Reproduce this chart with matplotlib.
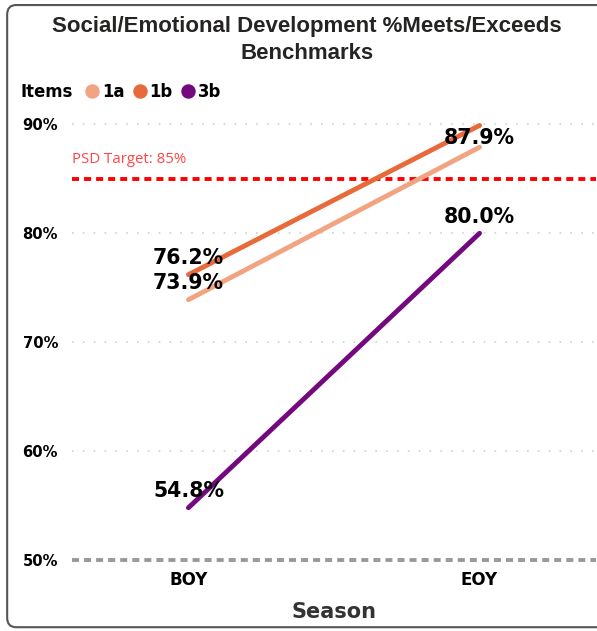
import matplotlib.pyplot as plt
from matplotlib.patches import FancyBboxPatch
from matplotlib.lines import Line2D
from matplotlib.offsetbox import HPacker

# data
seasons = ['BOY', 'EOY']
items = ['1a', '1b', '3b']
vals_1a = [73.9, 87.9]
vals_1b = [76.2, 89.9]
vals_3b = [54.8, 80.0]
series = [vals_1a, vals_1b, vals_3b]
colors = ['#F2A482', '#E8693A', '#74087F']
# labels that the original chart actually shows (1b EOY is hidden by overlap)
show_label = [[True, True], [True, False], [True, True]]
label_dy = [[12, 7], [12, 0], [12, 12]]
target = 85
yticks = [50, 60, 70, 80, 90]

plt.rcParams['font.family'] = ['Liberation Sans', 'DejaVu Sans']
bold_font = 'DejaVu Sans'

fig = plt.figure(figsize=(5.97, 6.31), dpi=100)
ax = fig.add_axes([0.1206, 0.1125, 0.8777, 0.7163])

x = range(len(seasons))
for vals, col, shows, dys in zip(series, colors, show_label, label_dy):
    ax.plot(x, vals, color=col, linewidth=3.5, solid_capstyle='round', zorder=3)
    for xi, v, s, dy in zip(x, vals, shows, dys):
        if s:
            ax.annotate(f'{v:.1f}%', (xi, v), xytext=(0, dy), textcoords='offset points',
                        ha='center', va='center', fontsize=14.8, fontweight='bold',
                        fontfamily=bold_font, color='black', zorder=4)

# target line
ax.axhline(target, color='#FF0000', linestyle=(0, (1.8, 1.3)), linewidth=2.8, zorder=2)
ax.text(-0.4, target + 1.1, f'PSD Target: {target}%', color='#FF4545', fontsize=10.8,
        fontfamily='Open Sans', ha='left', va='bottom')

# baseline
ax.axhline(50, color='#999999', linestyle=(0, (1.8, 1.3)), linewidth=2.8, zorder=2,
           clip_on=False)

ax.set_xlim(-0.4, 1.4)
ax.set_ylim(50, 91.5)
ax.set_xticks(list(x))
ax.set_xticklabels(seasons, fontsize=12, fontweight='bold', fontfamily=bold_font)
ax.set_yticks(yticks)
ax.set_yticklabels([f'{t}%' for t in yticks], fontsize=10.6, fontweight='bold',
                   fontfamily=bold_font)
ax.tick_params(axis='both', length=0)
ax.tick_params(axis='y', pad=10)
ax.tick_params(axis='x', pad=8)
for t in yticks[1:]:
    ax.axhline(t, color='#CFCFCF', linestyle=(0, (1, 5.5)), linewidth=1.2, zorder=1)
for s in ax.spines.values():
    s.set_visible(False)
ax.set_xlabel('Season', fontsize=15, fontweight='bold', fontfamily=bold_font,
              color='#333333', labelpad=9)

fig.text(0.514, 0.936, 'Social/Emotional Development %Meets/Exceeds\nBenchmarks',
         ha='center', va='center', fontsize=16, fontweight='bold', color='#252423',
         linespacing=1.38)

# legend
handles = [Line2D([], [], marker='o', linestyle='', markersize=9.4, color=c) for c in colors]
leg = fig.legend(handles, items, loc='center left', bbox_to_anchor=(21 / 597, 1 - 92 / 631),
                 ncol=3, frameon=False, title='Items', handletextpad=0.0,
                 columnspacing=0.3, borderpad=0, borderaxespad=0, handlelength=1.2,
                 prop={'weight': 'bold', 'size': 11.9, 'family': bold_font},
                 title_fontproperties={'weight': 'bold', 'size': 11.9, 'family': bold_font})
# put title inline with entries
box = leg._legend_box
box.__class__ = HPacker
box.sep = 6.5

# rounded border
border = FancyBboxPatch((0.012, 0.006), 1.1, 0.986, boxstyle='round,pad=0,rounding_size=0.015',
                        transform=fig.transFigure, fill=False, edgecolor='#555555',
                        linewidth=1.5, clip_on=False)
fig.patches.append(border)

fig.savefig('out.png', dpi=100)
